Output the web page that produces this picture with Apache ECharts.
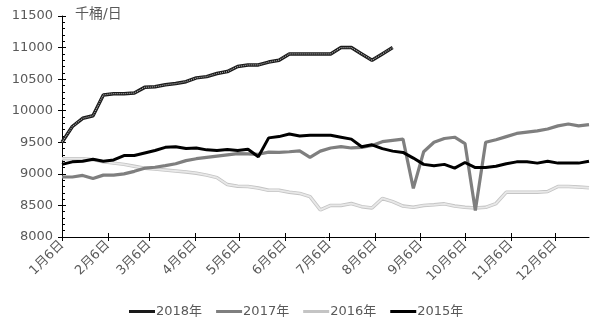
<!DOCTYPE html>
<html>
<head>
<meta charset="utf-8">
<script src="https://cdn.jsdelivr.net/npm/echarts@6/dist/echarts.min.js"></script>
<style>
  html, body { margin: 0; padding: 0; background: #fff; }
  #chart { width: 598px; height: 325px; }
</style>
</head>
<body>
<div id="chart"></div>
<script>
// Weekly crude output, thousand barrels per day; one value per week from 1月6日
const series2018 = [9500, 9750, 9880, 9920, 10250, 10270, 10270, 10280, 10370, 10380,
  10410, 10430, 10460, 10520, 10540, 10590, 10620, 10700, 10725, 10725,
  10770, 10800, 10900, 10900, 10900, 10900, 10900, 11000, 11000, 10900,
  10800, 10900, 11000];
const series2017 = [8950, 8950, 8975, 8925, 8980, 8980, 9000, 9040, 9090, 9105,
  9130, 9160, 9210, 9240, 9260, 9280, 9300, 9320, 9315, 9310,
  9345, 9340, 9350, 9365, 9260, 9360, 9410, 9430, 9410, 9420,
  9450, 9510, 9530, 9550, 8770, 9350, 9500, 9560, 9580, 9480,
  8420, 9500, 9540, 9590, 9640, 9660, 9680, 9710, 9760, 9790,
  9760, 9780];
const series2016 = [9240, 9240, 9240, 9225, 9190, 9170, 9150, 9120, 9090, 9075,
  9060, 9045, 9030, 9010, 8980, 8940, 8830, 8805, 8800, 8775,
  8740, 8740, 8710, 8690, 8640, 8430, 8500, 8500, 8530, 8480,
  8460, 8610, 8560, 8490, 8470, 8500, 8510, 8525, 8490, 8470,
  8460, 8470, 8530, 8710, 8710, 8710, 8710, 8720, 8800, 8800,
  8790, 8780];
const series2015 = [9150, 9190, 9200, 9230, 9200, 9220, 9290, 9290, 9330, 9370,
  9420, 9430, 9400, 9410, 9380, 9370, 9385, 9370, 9390, 9270,
  9570, 9590, 9630, 9600, 9610, 9610, 9610, 9580, 9550, 9430,
  9460, 9400, 9360, 9340, 9250, 9150, 9130, 9150, 9090, 9180,
  9100, 9100, 9120, 9160, 9190, 9190, 9170, 9200, 9170, 9170,
  9170, 9200];

// Month tick positions, in days counted from 1月6日
const monthDays = [0, 31, 59, 90, 120, 151, 181, 212, 243, 273, 304, 334];
const monthLabels = ['1月6日', '2月6日', '3月6日', '4月6日', '5月6日', '6月6日',
  '7月6日', '8月6日', '9月6日', '10月6日', '11月6日', '12月6日'];
const yearNames = ['2018年', '2017年', '2016年', '2015年'];
const unitLabel = '千桶/日';

const lastDay = 357;
const toPoints = (vals) => vals.map((v, i) => [i * 7, v]);

const FONT = '"DejaVu Sans", "Noto Sans CJK SC", sans-serif';
const TEXT = '#595959';

const lineSeries = (name, vals, color, width, extra) => Object.assign({
  name: name,
  type: 'line',
  data: toPoints(vals),
  showSymbol: false,
  symbol: 'none',
  smooth: false,
  animation: false,
  silent: true,
  lineStyle: { color: color, width: width },
  itemStyle: { color: color }
}, extra || {});

const chart = echarts.init(document.getElementById('chart'), null, { renderer: 'canvas' });

const xBase = {
  type: 'value',
  min: 0,
  max: lastDay,
  splitLine: { show: false },
  gridIndex: 0
};
const yBase = {
  type: 'value',
  min: 8000,
  max: 11500,
  interval: 500,
  splitLine: { show: false },
  gridIndex: 0
};

chart.setOption({
  backgroundColor: '#ffffff',
  textStyle: { fontFamily: FONT },
  grid: { left: 62, right: 9, top: 16, bottom: 88, containLabel: false },
  graphic: [{
    type: 'text',
    left: 75,
    top: 7,
    style: { text: unitLabel, font: '14px ' + FONT, fill: TEXT }
  }],
  legend: {
    data: yearNames,
    left: 124,
    top: 300,
    itemWidth: 26,
    itemHeight: 3,
    itemGap: 14,
    icon: 'rect',
    textStyle: { color: TEXT, fontSize: 13, fontFamily: FONT, padding: [0, 0, 0, -4] }
  },
  xAxis: [
    Object.assign({}, xBase, {
      position: 'bottom',
      axisLine: { show: true, onZero: false, lineStyle: { color: '#000', width: 1 } },
      axisTick: { show: true, inside: false, length: 4, lineStyle: { color: '#000' }, customValues: monthDays },
      axisLabel: {
        show: true,
        rotate: 45,
        margin: 6,
        color: TEXT,
        fontSize: 13,
        fontFamily: FONT,
        customValues: monthDays,
        formatter: (v) => monthLabels[monthDays.indexOf(v)] || ''
      }
    }),
    Object.assign({}, xBase, {
      position: 'bottom',
      axisLine: { show: false, onZero: false },
      axisTick: { show: true, inside: true, length: 4, lineStyle: { color: '#000' }, customValues: monthDays },
      axisLabel: { show: false }
    })
  ],
  yAxis: [
    Object.assign({}, yBase, {
      position: 'left',
      axisLine: { show: true, onZero: false, lineStyle: { color: '#000', width: 1 } },
      axisTick: { show: true, inside: true, length: 4, lineStyle: { color: '#000' } },
      minorTick: { show: true, splitNumber: 5, length: 3, lineStyle: { color: '#000' } },
      axisLabel: {
        show: true, margin: 9, color: TEXT, fontSize: 13, fontFamily: FONT,
        formatter: (v) => String(v)
      }
    }),
    Object.assign({}, yBase, {
      position: 'left',
      axisLine: { show: false, onZero: false },
      axisTick: { show: true, inside: false, length: 4, lineStyle: { color: '#000' } },
      axisLabel: { show: false }
    })
  ],
  series: [
    // 2018: double-stroke line (dark edge with a dotted pale core)
    lineSeries(yearNames[0], series2018, '#1a1a1a', 3.5, { z: 5 }),
    lineSeries(yearNames[0], series2018, '#b0b0b0', 1.2, { z: 6, lineStyle: { color: '#b0b0b0', width: 1.2, type: [1, 1] } }),
    lineSeries(yearNames[1], series2017, '#7f7f7f', 3.2, { z: 3 }),
    // 2016: pale line with a slightly darker rim
    lineSeries(yearNames[2], series2016, '#c4c4c4', 3.5, { z: 2 }),
    lineSeries(yearNames[2], series2016, '#e8e8e8', 1.8, { z: 2 }),
    lineSeries(yearNames[3], series2015, '#000000', 3, { z: 4 })
  ]
});
</script>
</body>
</html>
